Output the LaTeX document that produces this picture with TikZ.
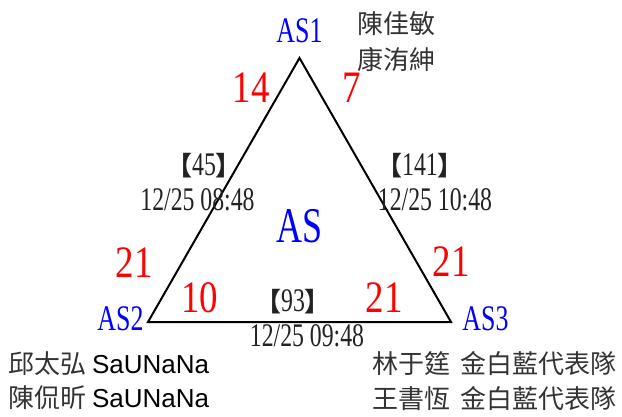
\documentclass[tikz,border=0pt]{standalone}
\usepackage{fontspec}
\usepackage{tikz}
\usetikzlibrary{positioning}
\setmainfont{Liberation Serif}
\newfontfamily\tagfont[FakeStretch=0.72]{Liberation Serif}
\newfontfamily\scorefont[FakeStretch=0.82]{Liberation Serif}
\newfontfamily\teamfont{Liberation Sans}
\newfontfamily\cjk{Noto Sans CJK TC}
\newcommand{\gameno}[1]{{\cjk\bfseries\fontsize{26}{26}\selectfont 【}#1{\cjk\bfseries\fontsize{26}{26}\selectfont 】}}
\definecolor{namegray}{HTML}{333333}
\definecolor{dategray}{HTML}{222222}
\definecolor{asblue}{HTML}{0000FF}
\definecolor{scorered}{HTML}{FF0000}

\begin{document}
\begin{tikzpicture}[x=1pt, y=-1pt,
  site/.style={inner sep=0pt, text=asblue, font=\tagfont\fontsize{36}{36}\selectfont},
  score/.style={inner sep=0pt, text=scorered, font=\scorefont\fontsize{45}{45}\selectfont},
  game/.style={inner sep=0pt, text=dategray, font=\tagfont\fontsize{33}{33}\selectfont},
  player/.style={inner sep=0pt, anchor=west, text=namegray, font=\cjk\fontsize{26}{26}\selectfont}
]
  \useasboundingbox (0,0) rectangle (622,416);

  % Triangle corners
  \coordinate (top)   at (299.5,58);
  \coordinate (left)  at (148,322);
  \coordinate (right) at (451,322);
  \draw[line width=2pt, line join=miter] (top) -- (left) -- (right) -- cycle;

  % Site labels
  \node[site] (as1) at (299.5,31) {AS1};
  \node[site] (as2) at (120.5,318.5) {AS2};
  \node[site] (as3) at (485.5,318.5) {AS3};
  \node[site, font=\tagfont\fontsize{50}{50}\selectfont] (as) at (299.5,226.5) {AS};

  % Scores
  \node[score] (s14) at (251,88) {14};
  \node[score] (s7)  at (352,88) {7};
  \node[score] (s21l) at (134,263) {21};
  \node[score] (s10)  at (199.5,297.5) {10};
  \node[score] (s21b) at (384,298) {21};
  \node[score] (s21r) at (451,262) {21};

  % Game numbers and times
  \node[game] (g45)  at (204,166) {\gameno{45}};
  \node[game] (t45)  at (197.5,200) {12/25 08:48};
  \node[game] (g141) at (420,166) {\gameno{141}};
  \node[game] (t141) at (435,200) {12/25 10:48};
  \node[game] (g93)  at (293,302) {\gameno{93}};
  \node[game] (t93)  at (307,336) {12/25 09:48};

  % Players
  \node[player] (p1a) at (357,23.5) {陳佳敏};
  \node[player] (p1b) at (357,60) {康洧紳};
  \node[player] (p2a) at (8,363.5) {邱太弘 {\teamfont\color{black}SaUNaNa}};
  \node[player] (p2b) at (8,397.5) {陳侃昕 {\teamfont\color{black}SaUNaNa}};
  \node[player] (p3a) at (372,363.5) {林于筳\hspace{4pt} 金白藍代表隊};
  \node[player] (p3b) at (372,399) {王書恆\hspace{4pt} 金白藍代表隊};
\end{tikzpicture}
\end{document}
